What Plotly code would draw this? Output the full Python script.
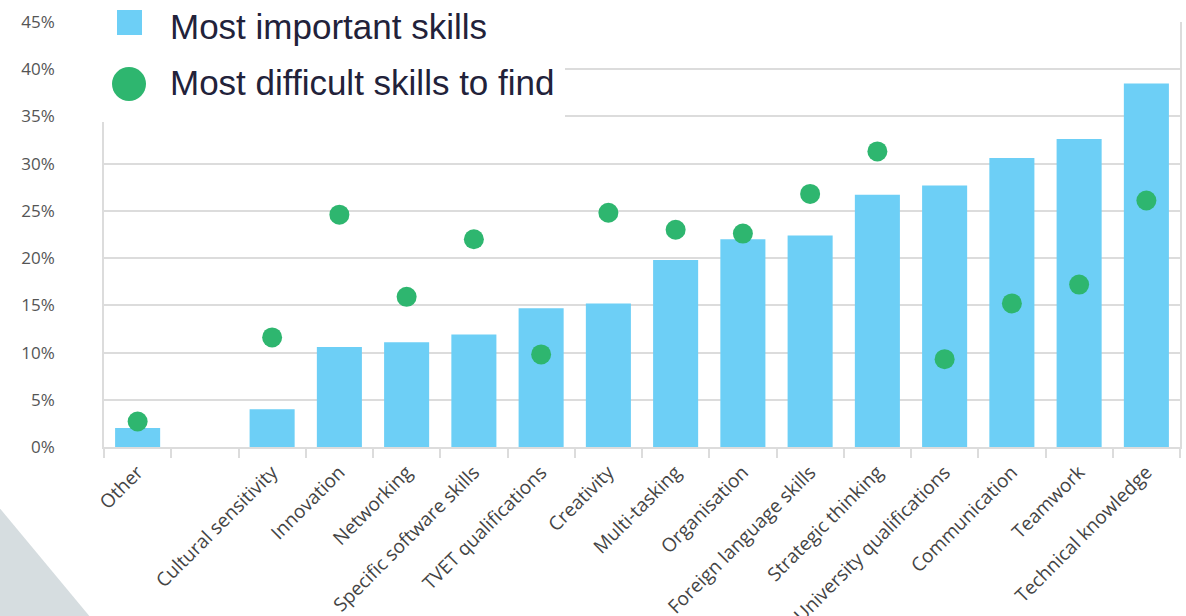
import plotly.graph_objects as go

# Skill categories (one unnamed gap slot after "Other")
categories = [
    "Other", " ", "Cultural sensitivity", "Innovation", "Networking",
    "Specific software skills", "TVET qualifications", "Creativity",
    "Multi-tasking", "Organisation", "Foreign language skills",
    "Strategic thinking", "University qualifications", "Communication",
    "Teamwork", "Technical knowledge",
]
# Share of respondents (%)
most_important = [2.0, None, 4.0, 10.6, 11.1, 11.9, 14.7, 15.2,
                  19.8, 22.0, 22.4, 26.7, 27.7, 30.6, 32.6, 38.5]
most_difficult = [2.7, None, 11.6, 24.6, 15.9, 22.0, 9.8, 24.8,
                  23.0, 22.6, 26.8, 31.3, 9.3, 15.2, 17.2, 26.1]
y_ticks = [0, 5, 10, 15, 20, 25, 30, 35, 40, 45]
y_tick_text = [f"{v}%" for v in y_ticks]
series_names = ["Most important skills", "Most difficult skills to find"]

BAR_COLOR = "#6dcff6"
DOT_COLOR = "#2eb66f"
GRID = "#dcdcdc"

W, H = 1186, 616
L, R, T, B = 104, 6, 22, 169
PW, PH = W - L - R, H - T - B


def px_x(x):
    return (x - L) / PW


def px_y(y):
    return (H - B - y) / PH


fig = go.Figure()
fig.add_trace(go.Bar(
    x=categories, y=most_important, name=series_names[0],
    marker=dict(color=BAR_COLOR, line=dict(width=0)),
    showlegend=False,
))
fig.add_trace(go.Scatter(
    x=categories, y=most_difficult, name=series_names[1], mode="markers",
    marker=dict(color=DOT_COLOR, size=20, line=dict(width=0)),
    showlegend=False,
))

shapes = [
    # decorative corner triangle
    dict(type="path", xref="paper", yref="paper", layer="below",
         path=f"M {px_x(-2)},{px_y(506)} L {px_x(91)},{px_y(618)} L {px_x(-2)},{px_y(618)} Z",
         fillcolor="#d6dde0", line=dict(width=0)),
    # legend panel
    dict(type="rect", xref="paper", yref="paper", layer="above",
         x0=px_x(99), x1=px_x(565), y0=px_y(122), y1=px_y(-2),
         fillcolor="white", line=dict(width=0)),
    dict(type="rect", xref="paper", yref="paper", layer="above",
         x0=px_x(117), x1=px_x(142), y0=px_y(35), y1=px_y(10),
         fillcolor=BAR_COLOR, line=dict(width=0)),
    dict(type="circle", xref="paper", yref="paper", layer="above",
         x0=px_x(112), x1=px_x(146), y0=px_y(101), y1=px_y(67),
         fillcolor=DOT_COLOR, line=dict(width=0)),
]

annotations = [
    dict(xref="paper", yref="paper", x=px_x(168), y=px_y(27),
         xanchor="left", yanchor="middle", showarrow=False,
         text=series_names[0],
         font=dict(family="Liberation Sans", size=35, color="#22223a")),
    dict(xref="paper", yref="paper", x=px_x(168), y=px_y(82),
         xanchor="left", yanchor="middle", showarrow=False,
         text=series_names[1],
         font=dict(family="Liberation Sans", size=35, color="#22223a")),
]

fig.update_layout(
    width=W, height=H,
    margin=dict(l=L, r=R, t=T, b=B, autoexpand=False),
    paper_bgcolor="white", plot_bgcolor="white",
    bargap=0.33,
    showlegend=False,
    shapes=shapes,
    annotations=annotations,
    font=dict(family="Open Sans", color="#444444"),
)
fig.update_xaxes(
    type="category", range=[-0.5, len(categories) - 0.5],
    tickangle=-45, tickson="boundaries",
    ticks="outside", ticklen=9, tickcolor=GRID, tickwidth=1.5,
    showline=True, linecolor=GRID, linewidth=1.5,
    showgrid=False, ticklabelstandoff=5,
    tickfont=dict(family="Open Sans", size=19, color="#444444"),
)
fig.update_yaxes(
    range=[0, 45], tickmode="array", tickvals=y_ticks, ticktext=y_tick_text,
    showgrid=True, gridcolor=GRID, gridwidth=1.5,
    showline=True, linecolor=GRID, linewidth=1.5, mirror=True,
    zeroline=False, ticks="", ticklabelstandoff=44,
    tickfont=dict(family="Open Sans", size=17, color="#555555"),
)

fig.write_html("out.html")
